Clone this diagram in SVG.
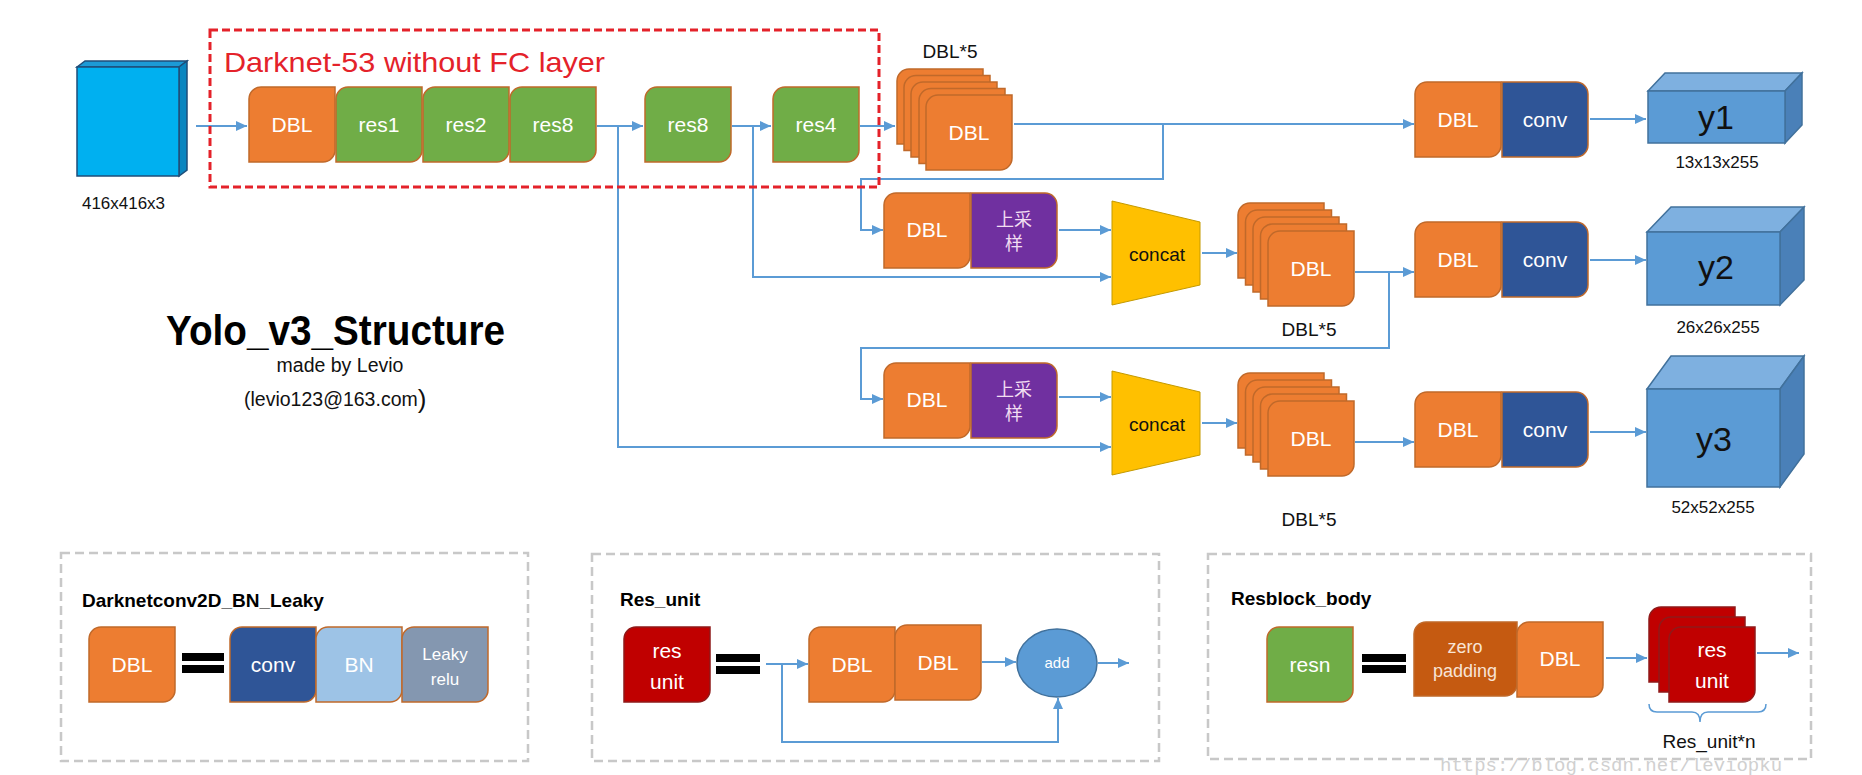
<svg xmlns="http://www.w3.org/2000/svg" xmlns:xlink="http://www.w3.org/1999/xlink" width="1862" height="775" viewBox="0 0 1862 775">
<style>
text{font-family:'Liberation Sans',Arial,sans-serif}
text.mono{font-family:'Liberation Mono','Courier New',monospace}
.bx{stroke:#C0692A;stroke-width:1.5}
.o{fill:#ED7D31}.g{fill:#70AD47}.nv{fill:#2F5597}.pu{fill:#7030A0}.bn{fill:#9DC3E6}.lk{fill:#8497B0}.rd{fill:#C00000;stroke:#8E1A1A}.zp{fill:#C55A11}
.w{fill:#fff;font-size:21px;text-anchor:middle}
.ws{fill:#fff;font-size:17px;text-anchor:middle}
.cj{fill:#F2DDF2;font-size:18px;text-anchor:middle;font-family:'Liberation Sans','Noto Sans CJK SC',sans-serif}
.lbl{fill:#111;font-size:17px;text-anchor:middle}
.ttl{fill:#000;font-size:19px;font-weight:bold}
.ln{fill:none;stroke:#5B9BD5;stroke-width:2}
.ar{marker-end:url(#ah)}
.panel{fill:none;stroke:#C8C8C8;stroke-width:2.5;stroke-dasharray:9 5}
.cc{fill:#FFC000;stroke:#C49A00;stroke-width:1}
.cube1{stroke:#1F4E79;stroke-width:1.5}
.cube{stroke:#41719C;stroke-width:1.5}
.yt{fill:#111;font-size:34px;text-anchor:middle}
</style>
<defs>
<marker id="ah" markerUnits="userSpaceOnUse" markerWidth="11" markerHeight="10" refX="11" refY="5" orient="auto"><path d="M0,0L11,5L0,10Z" fill="#5B9BD5"/></marker>
<path id="bd" d="M12,0H86V63A12,12 0 0 1 74,75H0V12A12,12 0 0 1 12,0Z"/>
<path id="br" d="M0,0H74A12,12 0 0 1 86,12V63A12,12 0 0 1 74,75H0Z"/>
<path id="bz" d="M12,0H103V62A12,12 0 0 1 91,74H0V12A12,12 0 0 1 12,0Z"/>
</defs>
<rect width="1862" height="775" fill="#fff"/>

<g id="connectors">
<path class="ln ar" d="M196,126H247"/>
<path class="ln ar" d="M597,126H643"/>
<path class="ln ar" d="M618,126V447H1111"/>
<path class="ln ar" d="M732,126H771"/>
<path class="ln ar" d="M753,126V277H1111"/>
<path class="ln ar" d="M860,126H895"/>
<path class="ln ar" d="M1014,124H1414"/>
<path class="ln ar" d="M1163,124V179H861V230H883"/>
<path class="ln ar" d="M1059,230H1111"/>
<path class="ln ar" d="M1202,253H1237"/>
<path class="ln ar" d="M1355,272H1414"/>
<path class="ln ar" d="M1389,272V348H861V399H883"/>
<path class="ln ar" d="M1059,397H1111"/>
<path class="ln ar" d="M1202,423H1237"/>
<path class="ln ar" d="M1355,442H1414"/>
<path class="ln ar" d="M1590,119H1646"/>
<path class="ln ar" d="M1590,260H1646"/>
<path class="ln ar" d="M1590,432H1646"/>
<path class="ln ar" d="M766,664H808"/>
<path class="ln ar" d="M782,664V742H1058V698"/>
<path class="ln ar" d="M982,662H1016"/>
<path class="ln ar" d="M1098,663H1129"/>
<path class="ln ar" d="M1606,658H1647"/>
<path class="ln ar" d="M1757,653H1799"/>
</g>

<g id="darknet-frame">
<rect x="210" y="30" width="669" height="157" fill="none" stroke="#E4222A" stroke-width="3" stroke-dasharray="8 4"/>
<text x="224" y="72" font-size="28" textLength="381" lengthAdjust="spacingAndGlyphs" fill="#E4222A">Darknet-53 without FC layer</text>
</g>

<g id="input">
<polygon class="cube1" points="77,67 85,61 187,61 179,67" fill="#1C9AD6"/>
<polygon class="cube1" points="179,67 187,61 187,170 179,176" fill="#0A86C0"/>
<rect class="cube1" x="77" y="67" width="102" height="109" fill="#00B0F0"/>
<text x="82" y="209" font-size="17" textLength="83" lengthAdjust="spacingAndGlyphs" fill="#111">416x416x3</text>
</g>

<g id="dbl-0"><use href="#bd" x="249" y="87" class="bx o"/><text class="w" x="292" y="132">DBL</text></g>
<g id="res1"><use href="#bd" x="336" y="87" class="bx g"/><text class="w" x="379" y="132">res1</text></g>
<g id="res2"><use href="#bd" x="423" y="87" class="bx g"/><text class="w" x="466" y="132">res2</text></g>
<g id="res8a"><use href="#bd" x="510" y="87" class="bx g"/><text class="w" x="553" y="132">res8</text></g>
<g id="res8b"><use href="#bd" x="645" y="87" class="bx g"/><text class="w" x="688" y="132">res8</text></g>
<g id="res4"><use href="#bd" x="773" y="87" class="bx g"/><text class="w" x="816" y="132">res4</text></g>

<g id="dbl5-1">
<text x="950" y="58" font-size="19" text-anchor="middle" fill="#111">DBL*5</text>
<use href="#bd" x="897" y="69" class="bx o"/><use href="#bd" x="904" y="75.5" class="bx o"/><use href="#bd" x="911" y="82" class="bx o"/><use href="#bd" x="919" y="88.5" class="bx o"/><use href="#bd" x="926" y="95" class="bx o"/>
<text class="w" x="969" y="140">DBL</text>
</g>

<g id="up1">
<use href="#bd" x="884" y="193" class="bx o"/><text class="w" x="927" y="237">DBL</text>
<use href="#br" x="971" y="193" class="bx pu"/><text class="cj" x="1014" y="226">上采</text><text class="cj" x="1014" y="250">样</text>
</g>
<g id="concat1">
<polygon class="cc" points="1112,201 1200,222 1200,285 1112,305"/>
<text x="1157" y="261" font-size="19" text-anchor="middle" fill="#111">concat</text>
</g>
<g id="dbl5-2">
<use href="#bd" x="1238" y="203" class="bx o"/><use href="#bd" x="1245.5" y="210" class="bx o"/><use href="#bd" x="1253" y="217" class="bx o"/><use href="#bd" x="1260.5" y="224" class="bx o"/><use href="#bd" x="1268" y="231" class="bx o"/>
<text class="w" x="1311" y="276">DBL</text>
<text x="1309" y="336" font-size="19" text-anchor="middle" fill="#111">DBL*5</text>
</g>

<g id="up2">
<use href="#bd" x="884" y="363" class="bx o"/><text class="w" x="927" y="407">DBL</text>
<use href="#br" x="971" y="363" class="bx pu"/><text class="cj" x="1014" y="396">上采</text><text class="cj" x="1014" y="420">样</text>
</g>
<g id="concat2">
<polygon class="cc" points="1112,371 1200,392 1200,455 1112,475"/>
<text x="1157" y="431" font-size="19" text-anchor="middle" fill="#111">concat</text>
</g>
<g id="dbl5-3">
<use href="#bd" x="1238" y="373" class="bx o"/><use href="#bd" x="1245.5" y="380" class="bx o"/><use href="#bd" x="1253" y="387" class="bx o"/><use href="#bd" x="1260.5" y="394" class="bx o"/><use href="#bd" x="1268" y="401" class="bx o"/>
<text class="w" x="1311" y="446">DBL</text>
<text x="1309" y="526" font-size="19" text-anchor="middle" fill="#111">DBL*5</text>
</g>

<g id="head1">
<use href="#bd" x="1415" y="82" class="bx o"/><text class="w" x="1458" y="127">DBL</text>
<use href="#br" x="1502" y="82" class="bx nv"/><text class="w" x="1545" y="127">conv</text>
</g>
<g id="head2">
<use href="#bd" x="1415" y="222" class="bx o"/><text class="w" x="1458" y="267">DBL</text>
<use href="#br" x="1502" y="222" class="bx nv"/><text class="w" x="1545" y="267">conv</text>
</g>
<g id="head3">
<use href="#bd" x="1415" y="392" class="bx o"/><text class="w" x="1458" y="437">DBL</text>
<use href="#br" x="1502" y="392" class="bx nv"/><text class="w" x="1545" y="437">conv</text>
</g>

<g id="y1">
<polygon class="cube" points="1648,91 1665,73 1802,73 1785,91" fill="#7EB0E0"/>
<polygon class="cube" points="1785,91 1802,73 1802,125 1785,143" fill="#4A80B8"/>
<rect class="cube" x="1648" y="91" width="137" height="52" fill="#5B9BD5"/>
<text class="yt" x="1716" y="129">y1</text>
<text class="lbl" x="1717" y="168">13x13x255</text>
</g>
<g id="y2">
<polygon class="cube" points="1647,232 1671,207 1804,207 1780,232" fill="#7EB0E0"/>
<polygon class="cube" points="1780,232 1804,207 1804,280 1780,305" fill="#4A80B8"/>
<rect class="cube" x="1647" y="232" width="133" height="73" fill="#5B9BD5"/>
<text class="yt" x="1716" y="279">y2</text>
<text class="lbl" x="1718" y="333">26x26x255</text>
</g>
<g id="y3">
<polygon class="cube" points="1647,389 1671,356 1804,356 1780,389" fill="#7EB0E0"/>
<polygon class="cube" points="1780,389 1804,356 1804,454 1780,487" fill="#4A80B8"/>
<rect class="cube" x="1647" y="389" width="133" height="98" fill="#5B9BD5"/>
<text class="yt" x="1714" y="451">y3</text>
<text class="lbl" x="1713" y="513">52x52x255</text>
</g>

<g id="title">
<text x="166" y="345" font-size="42" font-weight="bold" textLength="339" lengthAdjust="spacingAndGlyphs" fill="#000">Yolo_v3_Structure</text>
<text x="340" y="372" font-size="19.5" text-anchor="middle" fill="#111">made by Levio</text>
<text x="244" y="406" font-size="19.5" fill="#111">(levio123@163.com<tspan font-size="26" dy="2">)</tspan></text>
</g>

<g id="panel-dbl">
<rect class="panel" x="61" y="553" width="467" height="208"/>
<text class="ttl" x="82" y="607">Darknetconv2D_BN_Leaky</text>
<use href="#bd" x="89" y="627" class="bx o"/><text class="w" x="132" y="672">DBL</text>
<rect x="182" y="653" width="42" height="8" fill="#000"/><rect x="182" y="665" width="42" height="8" fill="#000"/>
<use href="#bd" x="230" y="627" class="bx nv"/><text class="w" x="273" y="672">conv</text>
<use href="#bd" x="316" y="627" class="bx bn"/><text class="w" x="359" y="672">BN</text>
<use href="#bd" x="402" y="627" class="bx lk"/><text class="ws" x="445" y="660">Leaky</text><text class="ws" x="445" y="685">relu</text>
</g>

<g id="panel-res-unit">
<rect class="panel" x="592" y="554" width="567" height="207"/>
<text class="ttl" x="620" y="606">Res_unit</text>
<use href="#bd" x="624" y="627" class="bx rd"/><text class="w" x="667" y="658">res</text><text class="w" x="667" y="689">unit</text>
<rect x="716" y="654" width="44" height="8" fill="#000"/><rect x="716" y="666" width="44" height="8" fill="#000"/>
<use href="#bd" x="809" y="627" class="bx o"/><text class="w" x="852" y="672">DBL</text>
<use href="#bd" x="895" y="625" class="bx o"/><text class="w" x="938" y="670">DBL</text>
<ellipse cx="1057" cy="663" rx="40" ry="34" fill="#5B9BD5" stroke="#41719C" stroke-width="1.5"/>
<text x="1057" y="668" font-size="15" text-anchor="middle" fill="#fff">add</text>
</g>

<g id="panel-resblock">
<rect class="panel" x="1208" y="554" width="603" height="205"/>
<text class="ttl" x="1231" y="605">Resblock_body</text>
<use href="#bd" x="1267" y="627" class="bx g"/><text class="w" x="1310" y="672">resn</text>
<rect x="1362" y="654" width="44" height="8" fill="#000"/><rect x="1362" y="665" width="44" height="8" fill="#000"/>
<use href="#bz" x="1414" y="622" class="bx zp"/><text x="1465" y="653" font-size="18" text-anchor="middle" fill="#F8E4D6">zero</text><text x="1465" y="677" font-size="18" text-anchor="middle" fill="#F8E4D6">padding</text>
<use href="#bd" x="1517" y="622" class="bx o"/><text class="w" x="1560" y="666">DBL</text>
<use href="#bd" x="1649" y="607" class="bx rd"/><use href="#bd" x="1659" y="617" class="bx rd"/><use href="#bd" x="1669" y="627" class="bx rd"/>
<text class="w" x="1712" y="657">res</text><text class="w" x="1712" y="688">unit</text>
<path d="M1649,704q0,8 8,8h35q8,0 8,10q0,-10 8,-10h50q8,0 8,-8" fill="none" stroke="#5B9BD5" stroke-width="1.5"/>
<text x="1709" y="748" font-size="19" text-anchor="middle" fill="#111">Res_unit*n</text>
</g>

<text class="mono" x="1440" y="771" font-size="19" fill="#D0D0D0">https://blog.csdn.net/leviopku</text>
</svg>
